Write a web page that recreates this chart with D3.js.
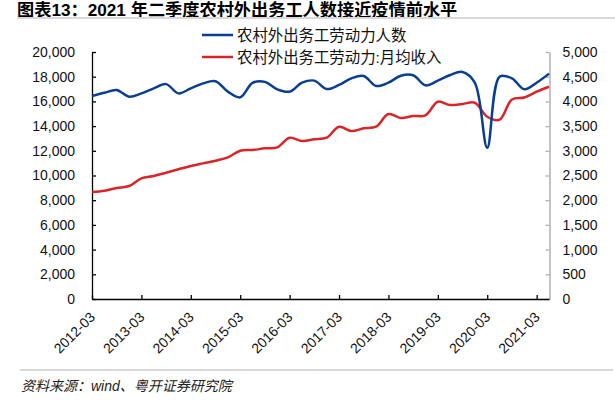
<!DOCTYPE html>
<html><head><meta charset="utf-8">
<script src="https://cdn.jsdelivr.net/npm/d3@7"></script>
<style>body{margin:0;background:#fff}svg{display:block}</style>
</head><body>
<script>
const quarters = ["2012-03","2012-06","2012-09","2012-12","2013-03","2013-06","2013-09","2013-12",
  "2014-03","2014-06","2014-09","2014-12","2015-03","2015-06","2015-09","2015-12",
  "2016-03","2016-06","2016-09","2016-12","2017-03","2017-06","2017-09","2017-12",
  "2018-03","2018-06","2018-09","2018-12","2019-03","2019-06","2019-09","2019-12",
  "2020-03","2020-06","2020-09","2020-12","2021-03","2021-06"];
const workers = [16437,16700,16923,16380,16650,17060,17400,16650,
  17060,17460,17625,16790,16330,17500,17580,16980,
  16790,17515,17680,17000,17330,17870,18060,17250,
  17515,18080,18120,17300,17680,18140,18380,17500,
  12250,18000,17870,16980,17515,18250];
const income = [2165,2192,2247,2287,2443,2490,2557,2625,
  2692,2746,2800,2868,3002,3016,3050,3070,
  3265,3198,3232,3265,3488,3400,3455,3488,
  3744,3665,3704,3718,3994,3926,3947,3973,
  3690,3630,4040,4080,4196,4297];
const yearTicks = ["2012-03","2013-03","2014-03","2015-03","2016-03","2017-03","2018-03","2019-03","2020-03","2021-03"];
const leftTicks = [0,2000,4000,6000,8000,10000,12000,14000,16000,18000,20000];
const rightTicks = [0,500,1000,1500,2000,2500,3000,3500,4000,4500,5000];
const seriesNames = ["农村外出务工劳动力人数","农村外出务工劳动力:月均收入"];
const titleText = "图表13：2021 年二季度农村外出务工人数接近疫情前水平";
const sourceText = "资料来源：wind、粤开证券研究院";

const W = 615, H = 404;
const FONT = "'Liberation Sans', Arial, 'Noto Sans CJK SC', sans-serif";
const BLUE = "#0a3f8f", RED = "#d7252a";
const svg = d3.select("body").append("svg").attr("width", W).attr("height", H)
  .style("font-family", FONT);

const x = d3.scalePoint(quarters, [92, 549]);
const yL = d3.scaleLinear([0, 20000], [299, 52]);
const yR = d3.scaleLinear([0, 5000], [299, 52]);

// title
svg.append("text").attr("x", 17).attr("y", 15.5).attr("font-size", 17.2).attr("font-weight", "bold")
  .attr("fill", "#000").text(titleText);
svg.append("line").attr("x1", 17).attr("x2", 615).attr("y1", 18).attr("y2", 18)
  .attr("stroke", "#d9d9d9").attr("stroke-width", 2);

// bottom line and source
svg.append("line").attr("x1", 20).attr("x2", 613).attr("y1", 370).attr("y2", 370)
  .attr("stroke", "#d9d9d9").attr("stroke-width", 2);
svg.append("text").attr("x", 21).attr("y", 391).attr("font-size", 14).attr("font-style", "italic")
  .attr("fill", "#222").text(sourceText);

// axes
const fmt = d3.format(",");
const gL = svg.append("g").attr("transform", "translate(92,0)")
  .call(d3.axisLeft(yL).tickValues(leftTicks).tickSizeInner(-4).tickSizeOuter(0).tickPadding(17).tickFormat(fmt));
gL.select(".domain").attr("stroke", "#000").attr("stroke-width", 1.3);
gL.selectAll(".tick line").attr("stroke", "#000").attr("stroke-width", 1.3);
gL.selectAll("text").attr("font-size", 14).attr("fill", "#111").attr("font-family", FONT);

const gR = svg.append("g").attr("transform", "translate(549.5,0)")
  .call(d3.axisRight(yR).tickValues(rightTicks).tickSizeInner(-4).tickSizeOuter(0).tickPadding(13).tickFormat(fmt));
gR.select(".domain").attr("stroke", "#b0b0b0").attr("stroke-width", 1.5);
gR.selectAll(".tick line").attr("stroke", "#b0b0b0").attr("stroke-width", 1.3);
gR.selectAll("text").attr("font-size", 14).attr("fill", "#111").attr("font-family", FONT);

const gX = svg.append("g").attr("transform", "translate(0,299)")
  .call(d3.axisBottom(x).tickValues(yearTicks).tickSizeInner(-4).tickSizeOuter(0).tickFormat(""));
gX.select(".domain").attr("stroke", "#000").attr("stroke-width", 1.3);
gX.selectAll(".tick line").attr("stroke", "#000").attr("stroke-width", 1.3);

svg.append("g").selectAll("text").data(yearTicks).join("text")
  .attr("transform", d => `translate(${x(d) + 4},318) rotate(-45)`)
  .attr("text-anchor", "end").attr("font-size", 14).attr("fill", "#111").text(d => d);

// lines
const curve = d3.curveCatmullRom.alpha(0.5);
const lineL = d3.line().x((d, i) => x(quarters[i])).y(d => yL(d)).curve(curve);
const lineR = d3.line().x((d, i) => x(quarters[i])).y(d => yR(d)).curve(curve);
svg.append("path").attr("d", lineR(income)).attr("fill", "none").attr("stroke", RED).attr("stroke-width", 2.5);
svg.append("path").attr("d", lineL(workers)).attr("fill", "none").attr("stroke", BLUE).attr("stroke-width", 2.5);

// legend
const lg = svg.append("g");
[[BLUE, 35], [RED, 57]].forEach(([c, yy], i) => {
  lg.append("line").attr("x1", 202).attr("x2", 233).attr("y1", yy).attr("y2", yy)
    .attr("stroke", c).attr("stroke-width", 2.5);
  lg.append("text").attr("x", 237).attr("y", yy).attr("dy", "0.36em").attr("font-size", 15.4)
    .attr("fill", "#111").text(seriesNames[i]);
});
</script>
</body></html>
